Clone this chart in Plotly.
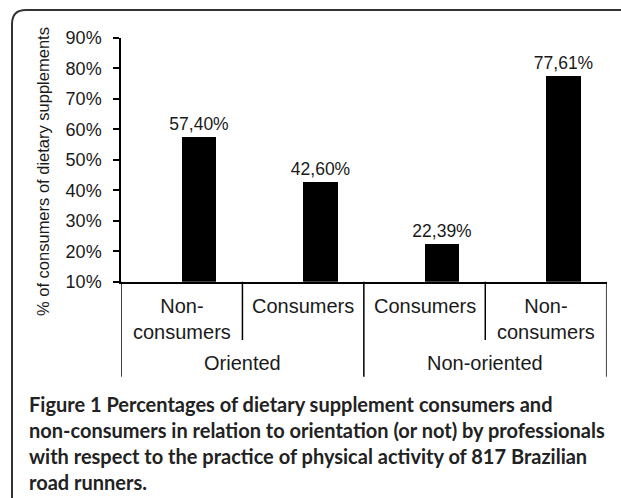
import plotly.graph_objects as go

# ---- data ----
groups = ["Oriented", "Oriented", "Non-oriented", "Non-oriented"]
categories = ["Non-<br>consumers", "Consumers", "Consumers", "Non-<br>consumers"]
values = [57.40, 42.60, 22.39, 77.61]
y_ticks = [10, 20, 30, 40, 50, 60, 70, 80, 90]
y_tick_labels = ["10%", "20%", "30%", "40%", "50%", "60%", "70%", "80%", "90%"]
y_title = "% of consumers of dietary supplements"
caption_lines = [
    "Figure 1 Percentages of dietary supplement consumers and",
    "non-consumers in relation to orientation (or not) by professionals",
    "with respect to the practice of physical activity of 817 Brazilian",
    "road runners.",
]

W, H = 621, 498
def px_x(v):
    return v / W
def px_y(v):
    return 1 - v / H

x_idx = list(range(len(values)))
labels = [f"{v:.2f}%".replace(".", ",") for v in values]

BAR_W = 0.285
fig = go.Figure()
fig.add_trace(go.Bar(
    x=x_idx, y=values, width=BAR_W, offset=0,
    marker=dict(color="black", line=dict(width=0)),
    text=labels, textposition="outside", cliponaxis=False, constraintext="none",
    textfont=dict(family="Liberation Sans, Arial", size=17.5, color="#1a1a1a"),
    showlegend=False, hoverinfo="skip",
))

plot_bottom = px_y(281.7)
shapes = []
n = len(values)
for b in range(n + 1):
    xb = b - 0.5
    is_group_edge = (b == 0 or b == n or groups[b] != groups[b - 1])
    y1 = px_y(376.7) if is_group_edge else px_y(340)
    shapes.append(dict(type="line", xref="x", yref="paper", x0=xb, x1=xb,
                       y0=plot_bottom, y1=y1, line=dict(color="black", width=1.5)))

# border with rounded top-left corner
bx, by, r = 12, 10, 14
path = (f"M {px_x(bx)},{-0.1} L {px_x(bx)},{px_y(by + r)} "
        f"Q {px_x(bx)},{px_y(by)} {px_x(bx + r)},{px_y(by)} L 1.1,{px_y(by)}")
shapes.append(dict(type="path", xref="paper", yref="paper", path=path,
                   line=dict(color="#333333", width=2)))

annotations = []
lab_font = dict(family="Liberation Sans, Arial", size=20, color="#1a1a1a")
for i, c in enumerate(categories):
    annotations.append(dict(xref="x", yref="paper", x=i, y=px_y(293),
                            text=c, showarrow=False, xanchor="center",
                            yanchor="top", font=lab_font))
seen = []
for g in groups:
    if g not in seen:
        seen.append(g)
for g in seen:
    idx = [i for i, gg in enumerate(groups) if gg == g]
    annotations.append(dict(xref="x", yref="paper", x=(idx[0] + idx[-1]) / 2,
                            y=px_y(363), text=g, showarrow=False,
                            xanchor="center", yanchor="middle", font=lab_font))
annotations.append(dict(xref="paper", yref="paper", x=px_x(43), y=px_y(172),
                        text=y_title, textangle=-90, showarrow=False,
                        xanchor="center", yanchor="middle",
                        font=dict(family="Liberation Sans, Arial", size=16.5, color="#1a1a1a")))
cap_y = [404, 430, 456, 482]
for t, yy in zip(caption_lines, cap_y):
    annotations.append(dict(xref="paper", yref="paper", x=px_x(27), y=px_y(yy),
                            text=f"<b>{t}</b>", showarrow=False, xanchor="left",
                            yanchor="middle", align="left",
                            font=dict(family="Lato", size=20, color="#222222")))

fig.update_layout(
    template="none",
    width=W, height=H,
    margin=dict(l=0, r=0, t=0, b=0),
    paper_bgcolor="white", plot_bgcolor="white",
    showlegend=False,
    bargap=0,
    xaxis=dict(domain=[px_x(121), px_x(606.7)], range=[-0.5, n - 0.5],
               showticklabels=False, ticks="", showgrid=False, zeroline=False,
               showline=True, linecolor="black", linewidth=1.5, automargin=False),
    yaxis=dict(domain=[plot_bottom, px_y(38)], range=[10, 90],
               tickmode="array", tickvals=y_ticks, ticktext=y_tick_labels,
               ticks="outside", ticklen=6,
               tickwidth=1.5, tickcolor="black", ticklabelstandoff=8,
               showgrid=False, zeroline=False, showline=True,
               linecolor="black", linewidth=1.5, automargin=False,
               tickfont=dict(family="Liberation Sans, Arial", size=18, color="#1a1a1a")),
    shapes=shapes,
    annotations=annotations,
)

fig.write_html("out.html", config={"displayModeBar": False},
               post_script="document.body.style.margin='0';")
